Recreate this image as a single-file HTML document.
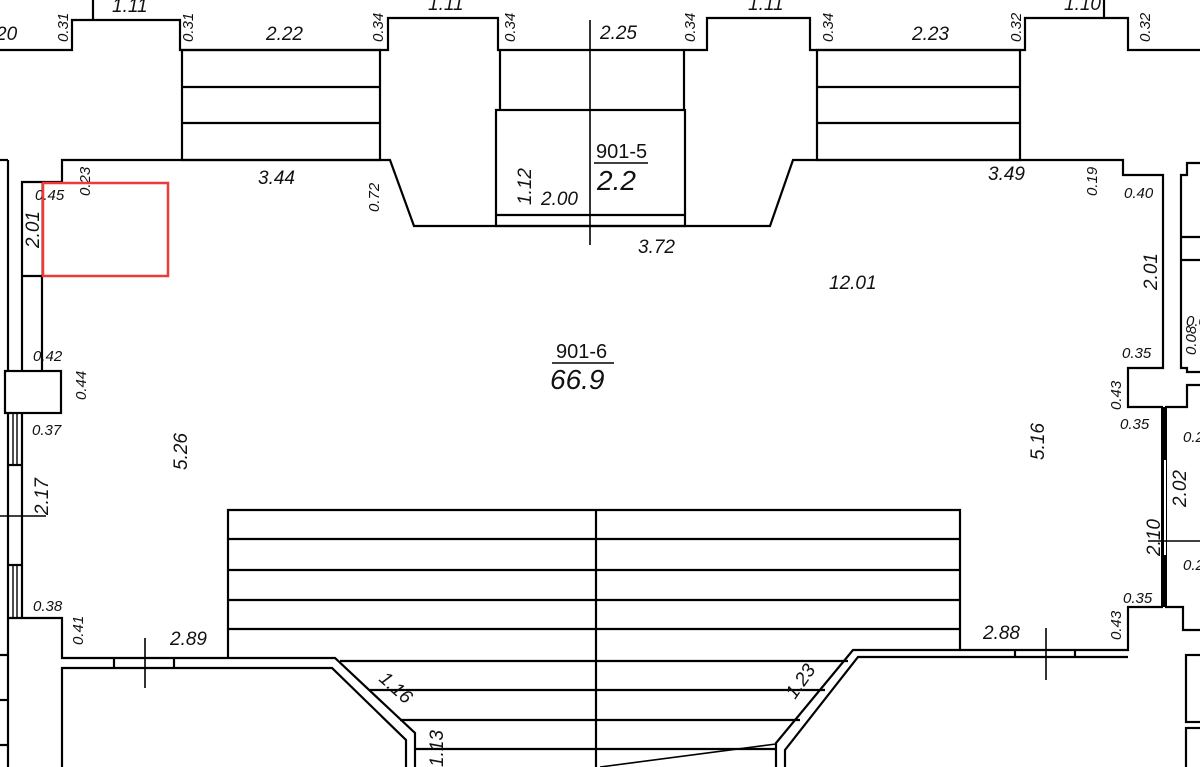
<!DOCTYPE html>
<html><head><meta charset="utf-8"><style>
html,body{margin:0;padding:0;background:#fff;}
svg{display:block;}
text{font-family:"Liberation Sans",sans-serif;font-style:italic;fill:#111;}
.s{font-size:15px;}
.m{font-size:19px;}
</style></head><body>
<svg width="1200" height="767" viewBox="0 0 1200 767" xmlns="http://www.w3.org/2000/svg">
<g fill="none" stroke="#000" stroke-width="2.2">
<polyline points="0,50 72,50 72,20 180,20 180,50 388,50 388,18 498,18 498,50 707,50 707,18 810,18 810,50 1025,50 1025,18 1128,18 1128,50 1200,50"/>
<line x1="93" y1="0" x2="93" y2="20"/>
<line x1="1104" y1="0" x2="1104" y2="18"/>
<rect x="182" y="50" width="198" height="110"/>
<line x1="182" y1="87" x2="380" y2="87"/>
<line x1="182" y1="123" x2="380" y2="123"/>
<rect x="817" y="50" width="203" height="110"/>
<line x1="817" y1="87" x2="1020" y2="87"/>
<line x1="817" y1="123" x2="1020" y2="123"/>
<line x1="500" y1="50" x2="500" y2="110"/>
<line x1="684" y1="50" x2="684" y2="110"/>
<rect x="496" y="110" width="189" height="116"/>
<line x1="496" y1="215" x2="685" y2="215"/>
<line x1="590" y1="20" x2="590" y2="245" stroke-width="1.6"/>
<polyline points="62,182 62,160 390,160 414,226 770,226 793,160 1123,160 1123,175 1163,175 1163,368 1128,368 1128,407 1163,407"/>
<polyline points="1163,607 1128,607 1128,650 853,650 776,743 776,767"/>
<polyline points="1128,657 858,657 785,750 785,767"/>
<line x1="1164" y1="407" x2="1164" y2="607" stroke-width="6"/>
<line x1="1165" y1="460" x2="1165" y2="555" stroke="#fff" stroke-width="2"/>
<polyline points="62,182 22,182 22,371"/>
<line x1="42" y1="276" x2="42" y2="371"/>
<line x1="22" y1="276" x2="42" y2="276"/>
<line x1="42" y1="182" x2="42" y2="276" stroke-width="1"/>
<line x1="8" y1="160" x2="8" y2="371"/>
<line x1="0" y1="160" x2="8" y2="160"/>
<rect x="5" y="371" width="56" height="42"/>
<line x1="8" y1="413" x2="8" y2="618"/>
<line x1="22" y1="413" x2="22" y2="618"/>
<line x1="13" y1="413" x2="13" y2="465" stroke-width="1.4"/>
<line x1="17" y1="413" x2="17" y2="465" stroke-width="1.4"/>
<line x1="13" y1="565" x2="13" y2="618" stroke-width="1.4"/>
<line x1="17" y1="565" x2="17" y2="618" stroke-width="1.4"/>
<line x1="8" y1="465" x2="22" y2="465"/>
<line x1="8" y1="565" x2="22" y2="565"/>
<line x1="0" y1="516" x2="46" y2="516" stroke-width="1.4"/>
<polyline points="8,618 62,618 62,658 335,658 415,733 415,767"/>
<polyline points="62,767 62,668 332,668 406,740 406,767"/>
<line x1="8" y1="618" x2="8" y2="767"/>
<line x1="0" y1="655" x2="8" y2="655"/>
<line x1="0" y1="700" x2="8" y2="700"/>
<line x1="0" y1="745" x2="8" y2="745"/>
<line x1="114" y1="658" x2="114" y2="668"/>
<line x1="174" y1="658" x2="174" y2="668"/>
<line x1="145" y1="638" x2="145" y2="688" stroke-width="1.6"/>
<line x1="1015" y1="650" x2="1015" y2="657"/>
<line x1="1075" y1="650" x2="1075" y2="657"/>
<line x1="1046" y1="628" x2="1046" y2="680" stroke-width="1.6"/>
<polyline points="228,658 228,510 960,510 960,650"/>
<line x1="228" y1="539" x2="960" y2="539"/>
<line x1="228" y1="570" x2="960" y2="570"/>
<line x1="228" y1="600" x2="960" y2="600"/>
<line x1="228" y1="629" x2="960" y2="629"/>
<line x1="340" y1="661" x2="848" y2="661"/>
<line x1="370" y1="690" x2="825" y2="690"/>
<line x1="400" y1="720" x2="800" y2="720"/>
<line x1="415" y1="749" x2="776" y2="749"/>
<line x1="596" y1="510" x2="596" y2="767"/>
<line x1="600" y1="767" x2="776" y2="744" stroke-width="1.6"/>
<polyline points="1200,163 1187,163 1187,175 1181,175 1181,368 1187,368 1187,372 1200,372"/>
<line x1="1181" y1="237" x2="1200" y2="237"/>
<line x1="1181" y1="260" x2="1200" y2="260"/>
<polyline points="1200,385 1187,385 1187,407 1165,407"/>
<polyline points="1165,607 1183,607 1183,630 1200,630"/>
<rect x="1186" y="655" width="20" height="67"/>
<rect x="1186" y="728" width="20" height="45"/>
<line x1="1148" y1="541" x2="1200" y2="541" stroke-width="1.6"/>
</g>
<g>
<text class="m" x="-4" y="40">20</text>
<text class="m" x="112" y="12">1.11</text>
<text class="m" x="428" y="10">1.11</text>
<text class="m" x="748" y="10">1.11</text>
<text class="m" x="1064" y="10">1.10</text>
<text class="m" x="266" y="40">2.22</text>
<text class="m" x="600" y="39">2.25</text>
<text class="m" x="912" y="40">2.23</text>
<text class="s" transform="translate(68,42) rotate(-90)">0.31</text>
<text class="s" transform="translate(193,42) rotate(-90)">0.31</text>
<text class="s" transform="translate(383,42) rotate(-90)">0.34</text>
<text class="s" transform="translate(515,42) rotate(-90)">0.34</text>
<text class="s" transform="translate(695,42) rotate(-90)">0.34</text>
<text class="s" transform="translate(833,42) rotate(-90)">0.34</text>
<text class="s" transform="translate(1021,42) rotate(-90)">0.32</text>
<text class="s" transform="translate(1150,42) rotate(-90)">0.32</text>
<text class="m" x="258" y="184">3.44</text>
<text class="s" transform="translate(90,196) rotate(-90)">0.23</text>
<text class="s" x="35" y="200">0.45</text>
<text class="s" transform="translate(379,212) rotate(-90)">0.72</text>
<text class="m" transform="translate(531,205) rotate(-90)">1.12</text>
<text class="m" x="541" y="205">2.00</text>
<text x="596" y="158" style="font-size:20px;font-style:normal">901-5</text>
<line x1="594" y1="163" x2="648" y2="163" stroke="#000" stroke-width="1.6"/>
<text x="597" y="190" style="font-size:28px">2.2</text>
<text class="m" x="638" y="253">3.72</text>
<text class="m" x="988" y="180">3.49</text>
<text class="s" transform="translate(1097,196) rotate(-90)">0.19</text>
<text class="s" x="1124" y="198">0.40</text>
<text class="m" x="829" y="289">12.01</text>
<text class="m" transform="translate(1157,290) rotate(-90)">2.01</text>
<text class="m" transform="translate(39,248) rotate(-90)">2.01</text>
<text x="556" y="358" style="font-size:20px;font-style:normal">901-6</text>
<line x1="552" y1="363" x2="614" y2="363" stroke="#000" stroke-width="1.6"/>
<text x="550" y="389" style="font-size:28px">66.9</text>
<text class="s" x="33" y="361">0.42</text>
<text class="s" transform="translate(86,400) rotate(-90)">0.44</text>
<text class="s" x="32" y="435">0.37</text>
<text class="m" transform="translate(187,470) rotate(-90)">5.26</text>
<text class="m" transform="translate(48,515) rotate(-90)">2.17</text>
<text class="s" x="33" y="611">0.38</text>
<text class="s" transform="translate(83,645) rotate(-90)">0.41</text>
<text class="m" x="170" y="645">2.89</text>
<text class="s" x="1122" y="358">0.35</text>
<text class="s" transform="translate(1121,410) rotate(-90)">0.43</text>
<text class="s" x="1120" y="429">0.35</text>
<text class="m" transform="translate(1044,460) rotate(-90)">5.16</text>
<text class="m" transform="translate(1160,556) rotate(-90)">2.10</text>
<text class="m" transform="translate(1186,507) rotate(-90)">2.02</text>
<text class="s" x="1183" y="442">0.28</text>
<text class="s" x="1183" y="570">0.25</text>
<text class="s" x="1123" y="603">0.35</text>
<text class="s" transform="translate(1121,640) rotate(-90)">0.43</text>
<text class="m" x="983" y="639">2.88</text>
<text class="s" transform="translate(1196,355) rotate(-90)">0.08</text>
<text class="s" x="1186" y="326">0.0</text>
<text class="m" transform="translate(378,680) rotate(42)">1.16</text>
<text class="m" transform="translate(795,700) rotate(-55)">1.23</text>
<text class="m" transform="translate(443,767) rotate(-90)">1.13</text>
</g>
<rect x="43" y="183" width="125" height="93" fill="none" stroke="#f03a3a" stroke-width="2.5"/>
</svg>
</body></html>
